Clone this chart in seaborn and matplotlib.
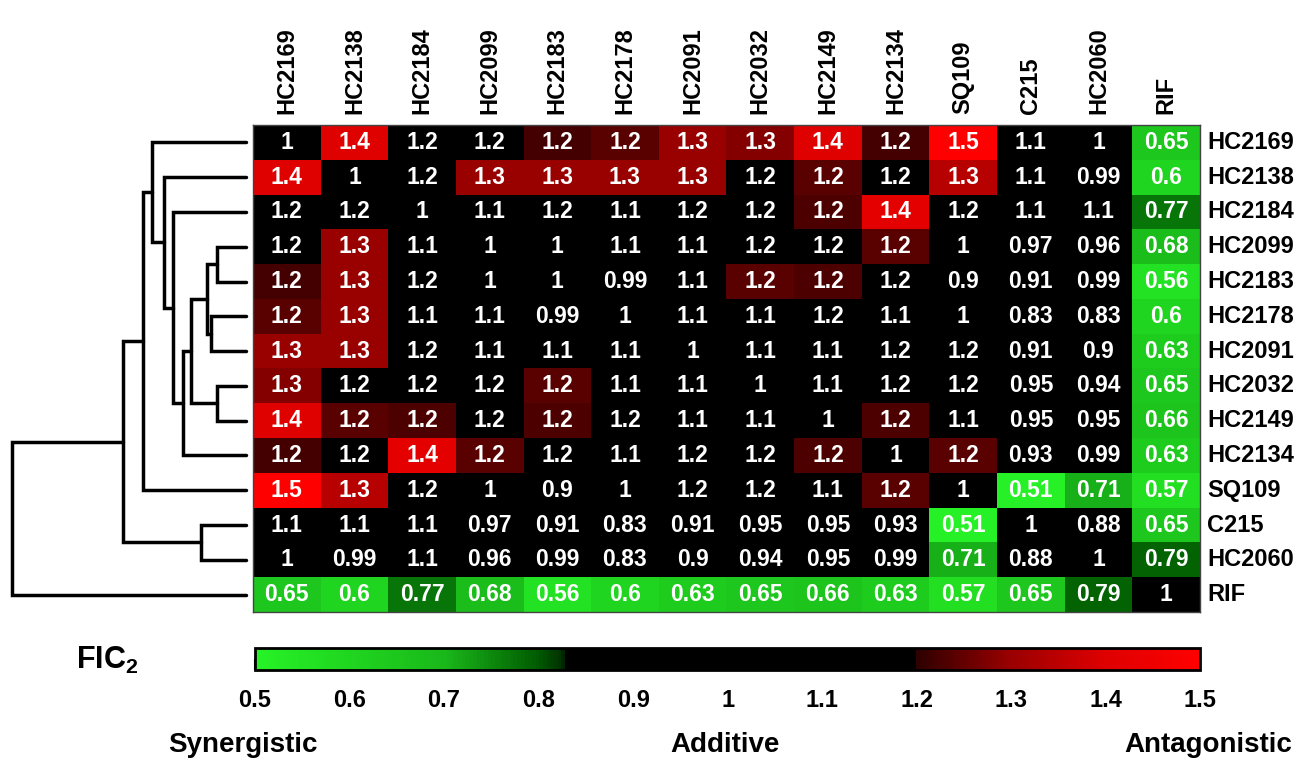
import numpy as np
import pandas as pd
import seaborn as sns
import matplotlib.pyplot as plt
from matplotlib.colors import LinearSegmentedColormap

# compounds in clustered order (rows and columns)
compounds = ["HC2169", "HC2138", "HC2184", "HC2099", "HC2183", "HC2178", "HC2091",
             "HC2032", "HC2149", "HC2134", "SQ109", "C215", "HC2060", "RIF"]

# FIC2 values (shown rounded to 2 significant digits)
fic2 = [
    [1.00, 1.40, 1.18, 1.18, 1.22, 1.24, 1.30, 1.28, 1.40, 1.22, 1.50, 1.10, 1.00, 0.65],
    [1.40, 1.00, 1.18, 1.30, 1.30, 1.30, 1.30, 1.18, 1.24, 1.18, 1.34, 1.10, 0.99, 0.60],
    [1.18, 1.18, 1.00, 1.10, 1.18, 1.10, 1.18, 1.18, 1.23, 1.42, 1.18, 1.10, 1.10, 0.77],
    [1.18, 1.30, 1.10, 1.00, 1.00, 1.10, 1.10, 1.18, 1.18, 1.24, 1.00, 0.97, 0.96, 0.68],
    [1.22, 1.30, 1.18, 1.00, 1.00, 0.99, 1.10, 1.24, 1.23, 1.18, 0.90, 0.91, 0.99, 0.56],
    [1.24, 1.30, 1.10, 1.10, 0.99, 1.00, 1.10, 1.10, 1.18, 1.10, 1.00, 0.83, 0.83, 0.60],
    [1.30, 1.30, 1.18, 1.10, 1.10, 1.10, 1.00, 1.10, 1.10, 1.18, 1.18, 0.91, 0.90, 0.63],
    [1.28, 1.18, 1.18, 1.18, 1.24, 1.10, 1.10, 1.00, 1.10, 1.18, 1.18, 0.95, 0.94, 0.65],
    [1.40, 1.24, 1.23, 1.18, 1.23, 1.18, 1.10, 1.10, 1.00, 1.23, 1.10, 0.95, 0.95, 0.66],
    [1.22, 1.18, 1.42, 1.24, 1.18, 1.10, 1.18, 1.18, 1.23, 1.00, 1.24, 0.93, 0.99, 0.63],
    [1.50, 1.34, 1.18, 1.00, 0.90, 1.00, 1.18, 1.18, 1.10, 1.24, 1.00, 0.51, 0.71, 0.57],
    [1.10, 1.10, 1.10, 0.97, 0.91, 0.83, 0.91, 0.95, 0.95, 0.93, 0.51, 1.00, 0.88, 0.65],
    [1.00, 0.99, 1.10, 0.96, 0.99, 0.83, 0.90, 0.94, 0.95, 0.99, 0.71, 0.88, 1.00, 0.79],
    [0.65, 0.60, 0.77, 0.68, 0.56, 0.60, 0.63, 0.65, 0.66, 0.63, 0.57, 0.65, 0.79, 1.00],
]

# dendrogram merges (child a, child b, height); new nodes numbered from 14
merges = [
    (3, 4, 0.124), (5, 6, 0.150), (14, 15, 0.167), (7, 8, 0.124),
    (16, 17, 0.235), (18, 9, 0.269), (2, 19, 0.312), (1, 20, 0.350),
    (0, 21, 0.402), (22, 10, 0.440), (11, 12, 0.192), (23, 24, 0.526),
    (25, 13, 1.000),
]

cbar_ticks = [0.5, 0.6, 0.7, 0.8, 0.9, 1.0, 1.1, 1.2, 1.3, 1.4, 1.5]

df = pd.DataFrame(fic2, index=compounds, columns=compounds)

sns.set_style("white")
plt.rcParams["font.family"] = ["Liberation Sans", "DejaVu Sans"]
plt.rcParams["font.weight"] = "bold"
plt.rcParams["text.color"] = "black"
plt.rcParams["xtick.color"] = "black"
plt.rcParams["ytick.color"] = "black"
plt.rcParams["mathtext.fontset"] = "custom"
plt.rcParams["mathtext.rm"] = "Liberation Sans:bold"
plt.rcParams["mathtext.bf"] = "Liberation Sans:bold"

# green -> black -> red, black between ~0.83 and 1.2
cmap = LinearSegmentedColormap.from_list("fic", [
    (0.00, (0.15, 0.95, 0.15)),
    (0.20, (0.10, 0.72, 0.10)),
    (0.30, (0.00, 0.35, 0.00)),
    (0.325, (0.00, 0.18, 0.00)),
    (0.328, (0.0, 0.0, 0.0)),
    (0.70, (0.0, 0.0, 0.0)),
    (0.701, (0.18, 0.0, 0.0)),
    (0.80, (0.60, 0.0, 0.0)),
    (0.90, (0.87, 0.0, 0.0)),
    (1.00, (1.0, 0.0, 0.0)),
])

fig = plt.figure(figsize=(13.12, 7.64), dpi=100)
ax = fig.add_axes([0.1928, 0.1990, 0.7218, 0.6374])
dax = fig.add_axes([0.0091, 0.1990, 0.1784, 0.6374])
cax = fig.add_axes([0.1944, 0.1230, 0.7203, 0.0288])

sns.heatmap(df, ax=ax, cmap=cmap, vmin=0.5, vmax=1.5, annot=True, fmt=".2g",
            annot_kws={"color": "white", "fontsize": 16.5, "fontweight": "bold"},
            cbar_ax=cax, cbar_kws={"orientation": "horizontal", "ticks": cbar_ticks})

ax.xaxis.tick_top()
ax.yaxis.tick_right()
ax.tick_params(axis="x", length=0, pad=8, labelsize=17, labelcolor="black")
ax.tick_params(axis="y", length=0, pad=5, labelsize=17, labelcolor="black")
plt.setp(ax.get_xticklabels(), rotation=90, ha="center", va="bottom", fontweight="bold")
plt.setp(ax.get_yticklabels(), rotation=0, ha="left", va="center", fontweight="bold")
for sp in ax.spines.values():
    sp.set_visible(True)
    sp.set_color("#444444")
    sp.set_linewidth(1)

# colorbar
cbar = ax.collections[0].colorbar
cbar.set_ticks(cbar_ticks)
cbar.set_ticklabels([f"{t:g}" for t in cbar_ticks])
cax.tick_params(axis="x", bottom=True, direction="in", length=8, width=1.5,
                color="black", pad=14, labelsize=17, labelcolor="black")
cbar.outline.set_linewidth(2)
cbar.outline.set_edgecolor("black")

# dendrogram
n = len(compounds)
ypos = {i: i + 0.5 for i in range(n)}
hgt = {i: 0.0 for i in range(n)}
for k, (a, b, h) in enumerate(merges):
    node = n + k
    dax.plot([hgt[a], h, h, hgt[b]], [ypos[a], ypos[a], ypos[b], ypos[b]],
             color="black", lw=2.5, clip_on=False, solid_joinstyle="miter")
    ypos[node] = (ypos[a] + ypos[b]) / 2
    hgt[node] = h
dax.set_xlim(1.0, 0.0)
dax.set_ylim(n, 0)
dax.axis("off")

fig.text(0.082, 0.136, r"$\mathbf{FIC_2}$", fontsize=22, ha="center", va="center")
fig.text(0.185, 0.025, "Synergistic", fontsize=20, ha="center", va="center")
fig.text(0.5526, 0.025, "Additive", fontsize=20, ha="center", va="center")
fig.text(0.921, 0.025, "Antagonistic", fontsize=20, ha="center", va="center")

fig.savefig("out.png", dpi=100)
